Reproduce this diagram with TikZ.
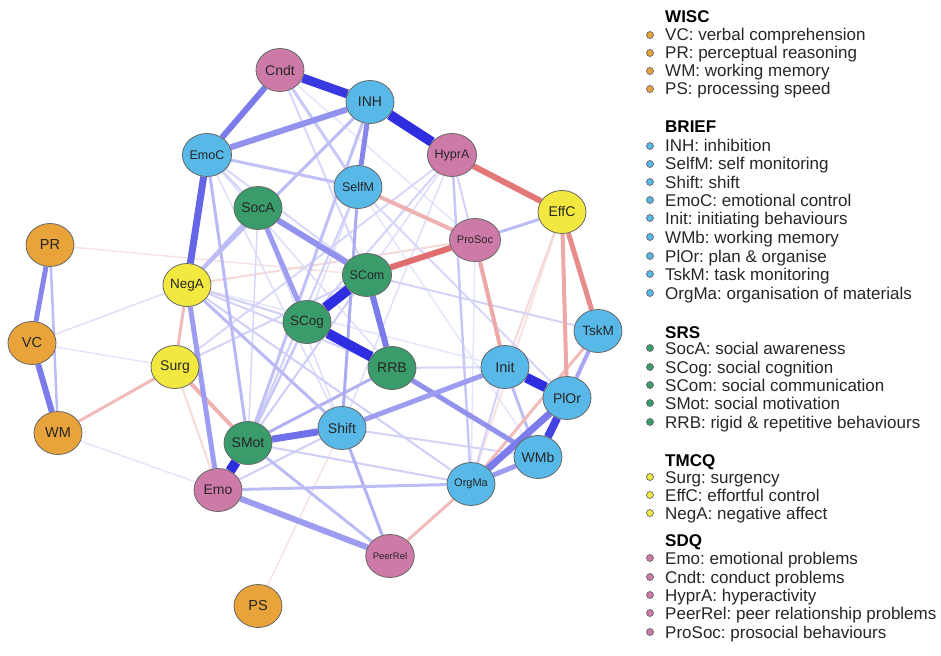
\documentclass[tikz,border=0pt]{standalone}
\usepackage{fontspec}
\setmainfont{Liberation Sans}
\frenchspacing
\usetikzlibrary{shapes.geometric,backgrounds}
\definecolor{wisc}{RGB}{232,163,58}
\definecolor{brief}{RGB}{88,184,232}
\definecolor{srs}{RGB}{58,155,107}
\definecolor{tmcq}{RGB}{242,232,64}
\definecolor{sdq}{RGB}{206,122,168}
\definecolor{pos}{RGB}{35,35,222}
\definecolor{neg}{RGB}{215,62,62}

\begin{document}
\begin{tikzpicture}[x=1pt,y=-1pt,
    var/.style={ellipse,draw=black!60,line width=0.8pt,minimum width=48pt,
      minimum height=43pt,inner sep=0pt,text=black!85},
    dot/.style={circle,draw=black!60,line width=0.7pt,minimum size=7pt,inner sep=0pt},
    item/.style={anchor=base west,inner sep=0pt,font=\fontsize{17}{18}\selectfont,text=black!85},
    head/.style={item,font=\fontsize{17}{18}\selectfont\bfseries,text=black}]
\useasboundingbox (0,0) rectangle (941,655);

% variables
\foreach \n/\x/\y/\c/\s in {Cndt/280/70/sdq/14, INH/370/102/brief/14, EmoC/207/155/brief/12.5,
    HyprA/452/155/sdq/12.5, SelfM/358/187/brief/12.5, SocA/258/208/srs/14, EffC/562/212/tmcq/14,
    ProSoc/475/240/sdq/11, PR/50/245/wisc/14.5, NegA/187/285/tmcq/13.5, SCom/367/275/srs/12.5,
    SCog/307/322/srs/13.5, TskM/598/331/brief/13.5, VC/32/343/wisc/14.5, Surg/175/367/tmcq/14,
    RRB/392/368/srs/14, Init/505/367/brief/14.5, PlOr/567/398/brief/14, Shift/342/428/brief/14,
    SMot/248/443/srs/14, WM/58/433/wisc/14.5, WMb/538/457/brief/14, OrgMa/471/484/brief/11,
    Emo/218/490/sdq/14, PeerRel/390/556/sdq/9.5, PS/258/606/wisc/14.5}
  \node[var,fill=\c,font=\fontsize{\s}{\s}\selectfont] (\n) at (\x,\y) {\n};

% edges, weakest first
\begin{scope}[on background layer]
\foreach \a/\b/\w/\i/\k in {PR/SCom/1.5/15/neg, VC/NegA/1.5/15/pos, VC/Surg/1.5/12/pos,
    WM/Emo/1.5/12/pos, PS/Shift/1.5/15/neg, Surg/Emo/2/18/neg, EffC/OrgMa/2/15/neg,
    EffC/Init/2/20/neg, NegA/ProSoc/2/20/neg, Cndt/ProSoc/1.5/12/pos, Cndt/SCom/2/18/pos,
    EmoC/RRB/1.5/15/pos, EmoC/Shift/1.5/15/pos, SelfM/SCog/1.5/15/pos, SelfM/WMb/1.5/12/pos,
    HyprA/Shift/1.5/15/pos, HyprA/SMot/1.5/15/pos, ProSoc/OrgMa/1.5/12/pos,
    SocA/SMot/1.5/18/pos, SocA/Shift/1.5/15/pos, NegA/Init/1.5/12/pos,
    HyprA/Surg/2/18/pos, SCom/TskM/2/20/pos, Shift/WMb/2/20/pos, SMot/OrgMa/2/22/pos,
    NegA/OrgMa/2/22/pos, EmoC/SocA/2/20/pos, EmoC/Surg/2/18/pos, EmoC/SCom/2/18/pos,
    HyprA/Init/2/20/pos, HyprA/SCog/2/20/pos, SelfM/SMot/2/22/pos, SCog/SMot/2.5/25/pos,
    SCom/SMot/2/22/pos, Emo/Shift/2/22/pos, Init/OrgMa/2/20/pos, SelfM/PlOr/2/18/pos,
    RRB/Init/2/18/pos, NegA/SCog/2/22/pos, Surg/SCom/2/20/pos, NegA/RRB/2/20/pos,
    PR/WM/2.5/30/pos, Cndt/SelfM/3/25/pos, EmoC/SelfM/3/28/pos, INH/NegA/3/30/pos,
    INH/SMot/3/28/pos, SocA/NegA/3/30/pos, EmoC/SMot/3/32/pos, SMot/RRB/3/35/pos,
    Shift/SelfM/3/38/pos, NegA/Shift/3/32/pos, HyprA/OrgMa/2.5/25/pos, EffC/ProSoc/3/30/pos,
    PeerRel/Shift/3/35/pos, PeerRel/SMot/3/30/pos, Emo/OrgMa/3/30/pos, Init/WMb/3/30/pos,
    NegA/Surg/3/35/neg, Surg/WM/3/35/neg, PeerRel/PlOr/3/35/neg, TskM/OrgMa/3/35/neg,
    TskM/PlOr/4/40/pos, SelfM/ProSoc/4/40/neg, ProSoc/Init/4/45/neg, Surg/SMot/4/40/neg,
    EffC/PlOr/4/45/neg, EffC/TskM/5/60/neg, PR/VC/5/55/pos, VC/WM/6/60/pos,
    NegA/Emo/5/45/pos, INH/SelfM/5/55/pos, SocA/SCog/5/45/pos, SocA/SCom/6/50/pos,
    EmoC/INH/6/50/pos, Cndt/EmoC/6/60/pos, RRB/WMb/5/50/pos, Shift/Init/5/45/pos,
    Emo/PeerRel/6/45/pos, WMb/OrgMa/5/45/pos, SCom/RRB/6/60/pos, EmoC/NegA/7/70/pos,
    SMot/Shift/7/65/pos, PlOr/OrgMa/7/60/pos, HyprA/EffC/6/70/neg, SCom/ProSoc/6/75/neg,
    PlOr/WMb/8/85/pos, Cndt/INH/9/90/pos, INH/HyprA/10/95/pos, SCom/SCog/10/95/pos,
    SCog/RRB/10/95/pos, SMot/Emo/10/95/pos, Init/PlOr/10/95/pos}
  \draw[line width=\w pt,draw=\k!\i!white] (\a) -- (\b);
\end{scope}

% legend
\foreach \y/\t in {17/WISC, 127/BRIEF, 332/SRS, 460/TMCQ, 540/SDQ}
  \node[head] (h\t) at (665,\y) [yshift=-6pt] {\t};
\foreach \y/\c/\t in {35/wisc/VC: verbal comprehension, 53/wisc/PR: perceptual reasoning,
    71/wisc/WM: working memory, 89/wisc/PS: processing speed,
    146/brief/INH: inhibition, 164/brief/SelfM: self monitoring, 182/brief/Shift: shift,
    200/brief/EmoC: emotional control, 218/brief/Init: initiating behaviours,
    237/brief/WMb: working memory, 256/brief/PlOr: plan \& organise,
    274/brief/TskM: task monitoring, 293/brief/OrgMa: organisation of materials,
    348/srs/SocA: social awareness, 367/srs/SCog: social cognition,
    385/srs/SCom: social communication, 403/srs/SMot: social motivation,
    422/srs/RRB: rigid \& repetitive behaviours,
    477/tmcq/Surg: surgency, 495/tmcq/EffC: effortful control, 513/tmcq/NegA: negative affect,
    558/sdq/Emo: emotional problems, 577/sdq/Cndt: conduct problems,
    595/sdq/HyprA: hyperactivity, 613/sdq/PeerRel: peer relationship problems,
    632/sdq/ProSoc: prosocial behaviours}
{
  \node[dot,fill=\c] (d\y) at (650,\y) {};
  \node[item] (l\y) at (665,\y) [yshift=-6pt] {\t};
}
\end{tikzpicture}
\end{document}
